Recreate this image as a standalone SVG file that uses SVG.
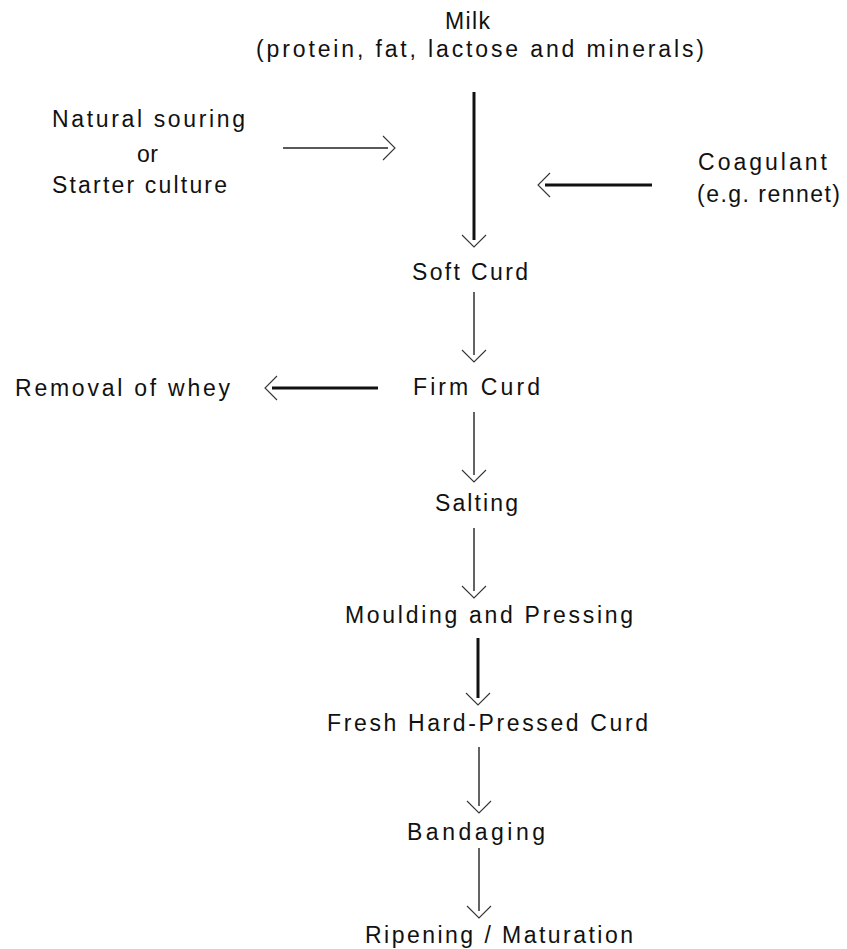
<svg xmlns="http://www.w3.org/2000/svg" width="847" height="949" viewBox="0 0 847 949">
<style>
text{font-family:"Liberation Sans",Arial,sans-serif;font-size:23px;fill:#111;}
.thin{stroke:#222;stroke-width:1.4;fill:none;}
.thick{stroke:#111;stroke-width:3;fill:none;}
</style>
<defs>
<marker id="chev" markerUnits="userSpaceOnUse" markerWidth="26" markerHeight="28" refX="5" refY="13" orient="auto" overflow="visible">
<path d="M0,1 L12,13 L0,25" fill="none" stroke="#333" stroke-width="1.1"/>
</marker>
</defs>
<rect width="847" height="949" fill="#fff"/>
<g id="milk"><text x="445" y="29" textLength="45" lengthAdjust="spacing">Milk</text>
<text x="256" y="57" textLength="448" lengthAdjust="spacing">(protein, fat, lactose and minerals)</text></g>
<g id="starter"><text x="52" y="127" textLength="193" lengthAdjust="spacing">Natural souring</text>
<text x="137" y="162" textLength="21" lengthAdjust="spacing">or</text>
<text x="52" y="193" textLength="175" lengthAdjust="spacing">Starter culture</text></g>
<g id="coagulant"><text x="698" y="170" textLength="129" lengthAdjust="spacing">Coagulant</text>
<text x="697" y="202" textLength="143" lengthAdjust="spacing">(e.g. rennet)</text></g>
<g id="softcurd"><text x="412" y="280" textLength="116" lengthAdjust="spacing">Soft Curd</text></g>
<g id="whey"><text x="15" y="396" textLength="215" lengthAdjust="spacing">Removal of whey</text></g>
<g id="firmcurd"><text x="413" y="395" textLength="127" lengthAdjust="spacing">Firm Curd</text></g>
<g id="salting"><text x="435" y="511" textLength="83" lengthAdjust="spacing">Salting</text></g>
<g id="moulding"><text x="345" y="623" textLength="288" lengthAdjust="spacing">Moulding and Pressing</text></g>
<g id="fresh"><text x="327" y="731" textLength="321" lengthAdjust="spacing">Fresh Hard-Pressed Curd</text></g>
<g id="bandaging"><text x="407" y="840" textLength="138" lengthAdjust="spacing">Bandaging</text></g>
<g id="ripening"><text x="365" y="943" textLength="268" lengthAdjust="spacing">Ripening / Maturation</text></g>
<g id="connectors">
<line class="thick" x1="474" y1="92" x2="474" y2="240" marker-end="url(#chev)"/>
<line class="thin" x1="283" y1="148" x2="388" y2="148" marker-end="url(#chev)"/>
<line class="thick" x1="652" y1="185" x2="545" y2="185" marker-end="url(#chev)"/>
<line class="thin" x1="474" y1="292" x2="474" y2="355" marker-end="url(#chev)"/>
<line class="thick" x1="378" y1="388" x2="272" y2="388" marker-end="url(#chev)"/>
<line class="thin" x1="474" y1="412" x2="474" y2="475" marker-end="url(#chev)"/>
<line class="thin" x1="474" y1="528" x2="474" y2="591" marker-end="url(#chev)"/>
<line class="thick" x1="478" y1="638" x2="478" y2="698" marker-end="url(#chev)"/>
<line class="thin" x1="479" y1="747" x2="479" y2="806" marker-end="url(#chev)"/>
<line class="thin" x1="479" y1="848" x2="479" y2="911" marker-end="url(#chev)"/>
</g>
</svg>
